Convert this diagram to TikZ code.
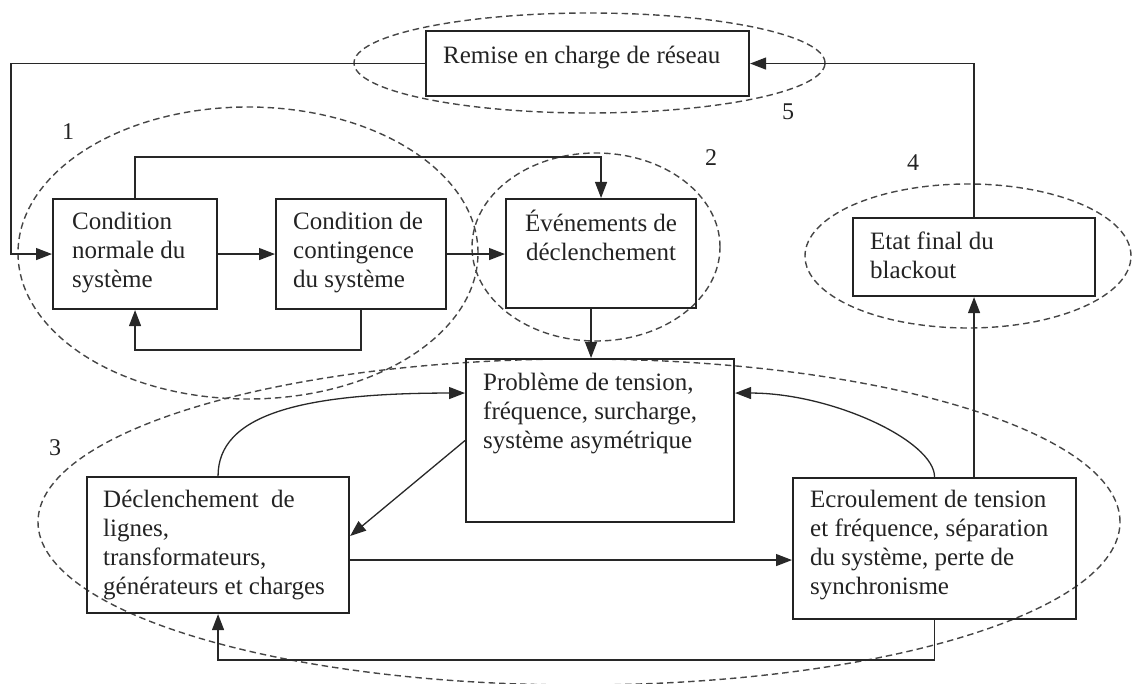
\documentclass[tikz,border=0pt]{standalone}
\usepackage{fontspec}
\setmainfont{Liberation Serif}
\usetikzlibrary{arrows.meta,shapes.geometric,calc}
\definecolor{boxc}{RGB}{35,35,35}
\definecolor{linec}{RGB}{40,40,40}
\definecolor{dashc}{RGB}{70,70,70}
\definecolor{txtc}{RGB}{35,35,35}
\begin{document}
\begin{tikzpicture}[x=1pt,y=-1pt,
  box/.style={draw=boxc,line width=2.1pt,rectangle,inner sep=0pt,anchor=north west},
  txt/.style={inner sep=0pt,align=left,text=txtc,font=\fontsize{25}{29}\selectfont},
  num/.style={inner sep=0pt,text=txtc,font=\fontsize{24}{28}\selectfont},
  conn/.style={draw=linec,line width=1.3pt,-{Triangle[length=16pt,width=12pt]}},
  grp/.style={draw=dashc,line width=1.4pt,dash pattern=on 6.5pt off 4pt,ellipse,inner sep=0pt}
]
\useasboundingbox (0,0) rectangle (1133,684);

% group ellipses
\node[grp,minimum width=460pt,minimum height=292pt] (g1) at (248,253) {};
\node[grp,minimum width=248pt,minimum height=188pt] (g2) at (596,247) {};
\node[grp,minimum width=1082pt,minimum height=326pt] (g3) at (579,522) {};
\node[grp,minimum width=326pt,minimum height=144pt] (g4) at (968,256) {};
\node[grp,minimum width=471pt,minimum height=100pt] (g5) at (589.5,63) {};

% group numbers
\node[num] (n1) at (68,132) {1};
\node[num] (n2) at (711,158) {2};
\node[num] (n3) at (55,448) {3};
\node[num] (n4) at (913,163) {4};
\node[num] (n5) at (788,112) {5};

% boxes
\node[box,minimum width=323pt,minimum height=65pt] (re) at (425,30) {};
\node[txt,anchor=north west] (re-t) at ([xshift=18pt,yshift=-13pt]re.north west) {\strut Remise en charge de réseau};

\node[box,minimum width=164pt,minimum height=110pt] (cn) at (52,198) {};
\node[txt,anchor=north west] (cn-t) at ([xshift=20pt,yshift=-11pt]cn.north west) {\strut Condition\\normale du\\système};

\node[box,minimum width=170pt,minimum height=110pt] (co) at (275,198) {};
\node[txt,anchor=north west] (co-t) at ([xshift=18pt,yshift=-11pt]co.north west) {\strut Condition de\\contingence\\du système};

\node[box,minimum width=190pt,minimum height=109pt] (ev) at (505,198) {};
\node[txt,align=center,anchor=north] (ev-t) at ([yshift=-12pt]ev.north) {\strut Événements de\\déclenchement};

\node[box,minimum width=242pt,minimum height=78pt] (et) at (852,217) {};
\node[txt,anchor=north west] (et-t) at ([xshift=18pt,yshift=-12pt]et.north west) {\strut Etat final du\\blackout};

\node[box,minimum width=268pt,minimum height=163pt] (pb) at (465,358) {};
\node[txt,anchor=north west] (pb-t) at ([xshift=18pt,yshift=-12pt]pb.north west) {\strut Problème de tension,\\fréquence, surcharge,\\système asymétrique};

\node[box,minimum width=262pt,minimum height=136pt] (dc) at (86,476) {};
\node[txt,anchor=north west] (dc-t) at ([xshift=17pt,yshift=-11pt]dc.north west) {\strut Déclenchement\ \ de\\lignes,\\transformateurs,\\générateurs et charges};

\node[box,minimum width=283pt,minimum height=141pt] (ec) at (792,477) {};
\node[txt,anchor=north west] (ec-t) at ([xshift=18pt,yshift=-10pt]ec.north west) {\strut Ecroulement de tension\\et fréquence, séparation\\du système, perte de\\synchronisme};

% helper coordinate for the left return line
\coordinate (lc) at (11,0);

% connectors
\draw[conn] (re.west) -| (lc |- cn.west) -- (cn.west);
\draw[conn] (et.north) |- (re.east);
\draw[conn] (cn.east) -- (co.west);
\draw[conn] (co.east) -- (co.east -| ev.west);
\draw[conn] (cn.north) -- ++(0,-41) -| (ev.north);
\draw[conn] (co.south) -- ++(0,40) -| (cn.south);
\draw[conn] ([xshift=-10pt]ev.south) -- ([xshift=-10pt]ev.south |- pb.north);
\draw[conn] (dc.north) .. controls +(0,-61) and +(-165,0) .. ([yshift=47.5pt]pb.west);
\draw[conn] (ec.north) .. controls +(0,-36) and +(97,0) .. ([yshift=47.5pt]pb.east);
\draw[conn] (pb.west) -- ([yshift=9pt]dc.east);
\draw[conn] ([yshift=-15pt]dc.east) -- ([yshift=-15pt]dc.east -| ec.west);
\draw[conn] (ec.south) -- ++(0,40) -| (dc.south);
\draw[conn] (ec.north -| et.south) -- (et.south);
\end{tikzpicture}
\end{document}
